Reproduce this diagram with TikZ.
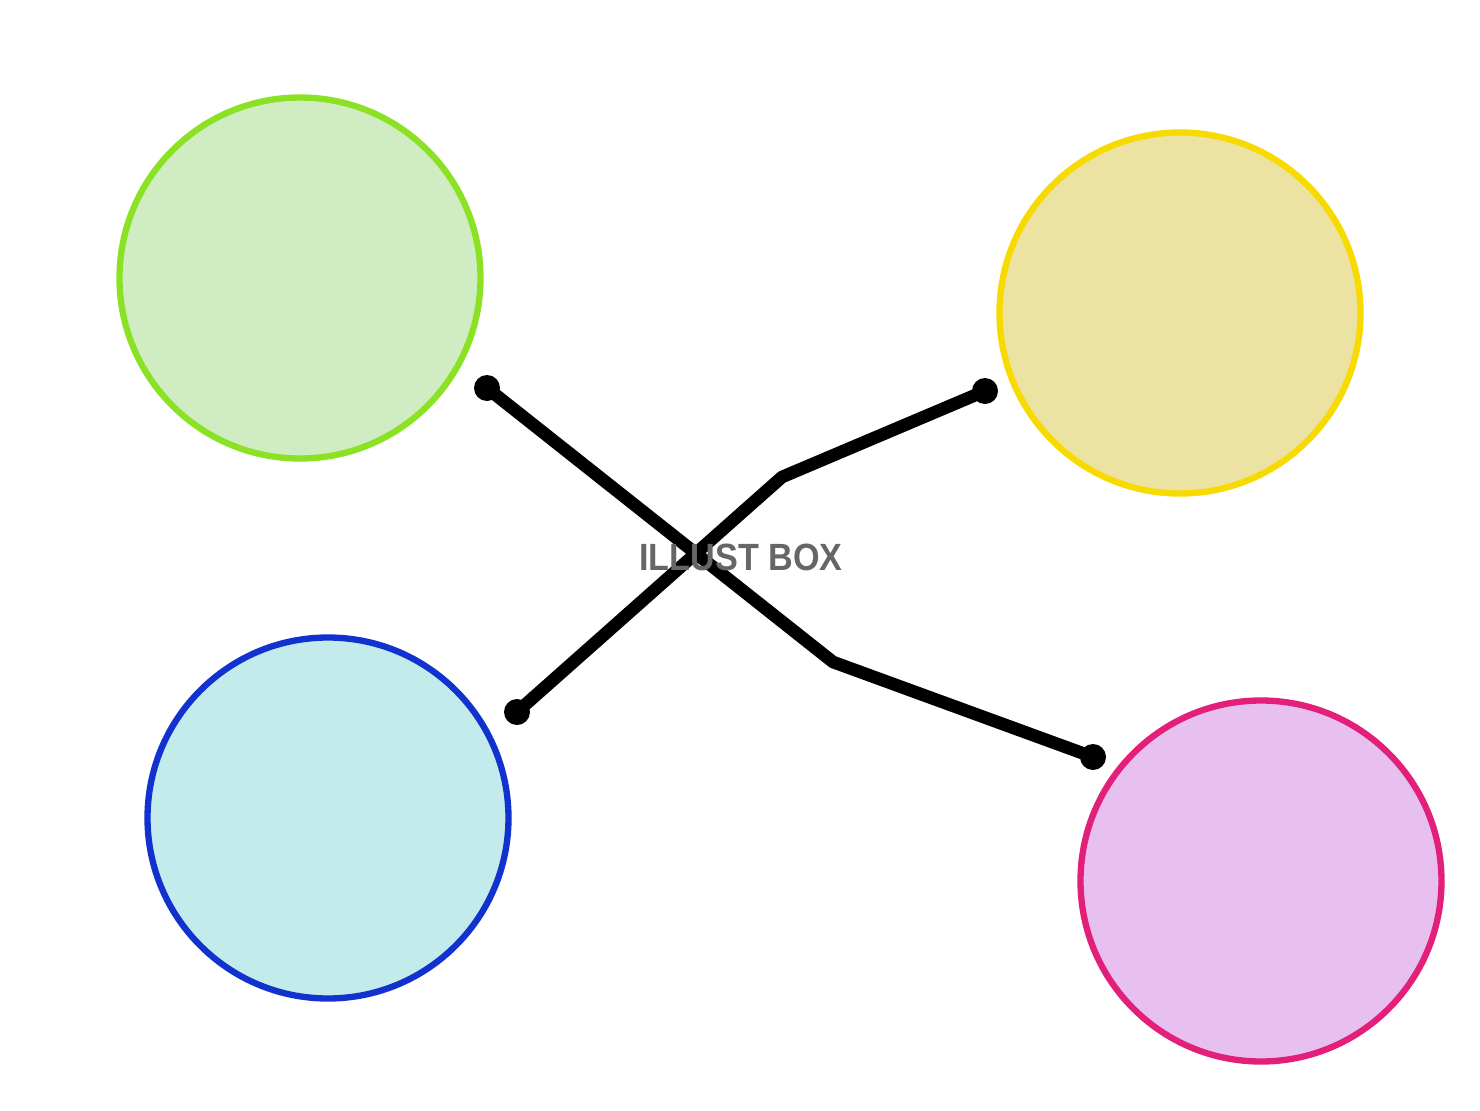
\documentclass[tikz,border=0pt]{standalone}
\usepackage{fontspec}
\setmainfont{Liberation Sans}
\usetikzlibrary{arrows.meta}
\definecolor{grünrand}{HTML}{8BE224}
\definecolor{grünfill}{HTML}{D0ECC2}
\definecolor{gelbrand}{HTML}{F7DA00}
\definecolor{gelbfill}{HTML}{ECE3A2}
\definecolor{blaurand}{HTML}{1232CF}
\definecolor{blaufill}{HTML}{C3EBEC}
\definecolor{rosarand}{HTML}{E2207A}
\definecolor{rosafill}{HTML}{E8C0F0}
\tikzset{
  kreis/.style={circle, line width=1.8pt, inner sep=0pt, minimum size=3.61cm},
  linie/.style={line width=3.6pt, line cap=round, line join=round},
}
\begin{document}
\begin{tikzpicture}[scale=1.0]
  \useasboundingbox (0,0) rectangle (14.8,11.1);
  % Kreise
  \node[kreis, draw=grünrand, fill=grünfill] (gruen) at (3.00,8.32) {};
  \node[kreis, draw=gelbrand, fill=gelbfill] (gelb) at (11.80,7.97) {};
  \node[kreis, draw=blaurand, fill=blaufill] (blau) at (3.28,2.92) {};
  \node[kreis, draw=rosarand, fill=rosafill] (rosa) at (12.61,2.29) {};
  % Endpunkte und Knicke
  \coordinate (a1) at (4.87,7.22);
  \coordinate (a2) at (8.33,4.48);
  \coordinate (a3) at (10.93,3.53);
  \coordinate (b1) at (5.17,3.98);
  \coordinate (b2) at (7.82,6.33);
  \coordinate (b3) at (9.85,7.19);
  % Verbindungen
  \draw[linie] (a1) -- (a2) -- (a3);
  \draw[linie] (b1) -- (b2) -- (b3);
  \foreach \p in {a1,a3,b1,b3}
    \fill (\p) circle (0.13);
  % Schriftzug
  \node[text=black!60, xscale=0.9, font=\bfseries\fontsize{10.8}{12}\selectfont] (marke) at (7.41,5.53) {ILLUST BOX};
\end{tikzpicture}
\end{document}
